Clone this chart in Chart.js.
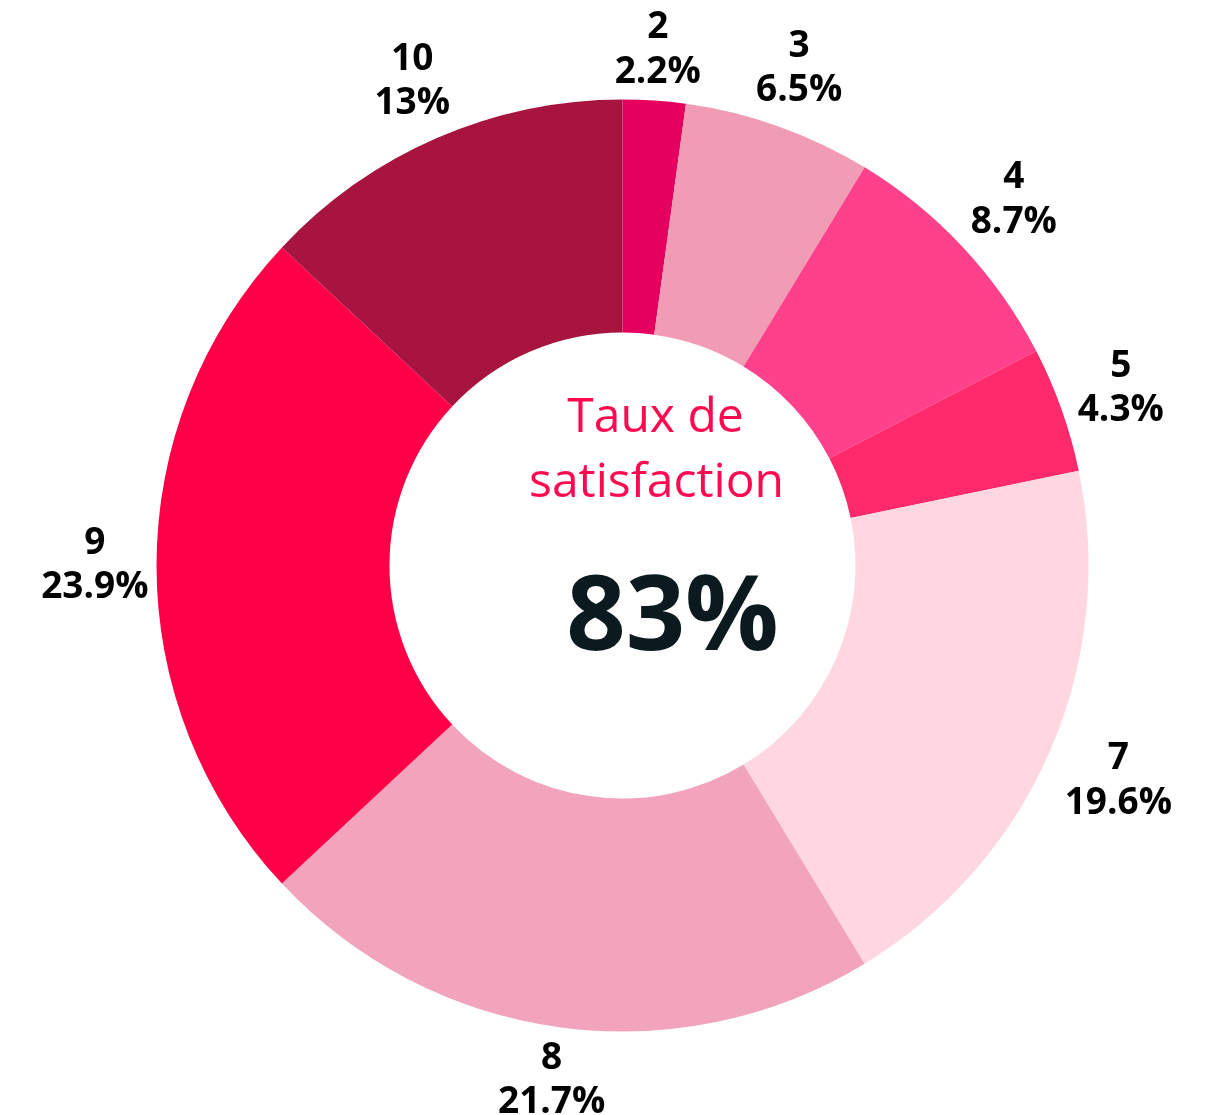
<!DOCTYPE html>
<html>
<head>
<meta charset="utf-8">
<script src="https://cdn.jsdelivr.net/npm/chart.js@4"></script>
<style>
  body { margin: 0; background: #fff; }
  #wrap { width: 1215px; height: 1115px; position: relative; }
</style>
</head>
<body>
<div id="wrap"><canvas id="myChart"></canvas></div>
<script>
const labels = ["2", "3", "4", "5", "7", "8", "9", "10"];
const counts = [1, 3, 4, 2, 9, 10, 11, 6];
const colors = ["#e5005f", "#f09cb4", "#ff408a", "#ff2a6b", "#ffd7e1", "#f1a4bb", "#ff0048", "#a6143f"];
const centerTitle = ["Taux de", "satisfaction"];
const centerValue = "83%";

const total = counts.reduce((a, b) => a + b, 0);

// distance from the chart centre to the closest point of a box
function boxDist(cx, cy, a, b) {
  const nx = Math.max(Math.abs(cx) - a, 0);
  const ny = Math.max(Math.abs(cy) - b, 0);
  return Math.hypot(nx, ny);
}

// labels outside the ring: box pushed out along the slice middle until it clears the ring
const outerLabels = {
  id: "outerLabels",
  afterDatasetsDraw(chart) {
    const ctx = chart.ctx;
    const meta = chart.getDatasetMeta(0);
    const fontSize = 37;
    const lineHeight = fontSize * 1.2;
    const padX = 4;
    const padY = 1;
    const offset = 4;
    ctx.save();
    ctx.font = "bold " + fontSize + "px 'Open Sans'";
    ctx.fillStyle = "#000";
    ctx.textAlign = "center";
    ctx.textBaseline = "middle";
    meta.data.forEach((arc, i) => {
      const p = arc.getProps(["x", "y", "startAngle", "endAngle", "outerRadius"], true);
      const mid = (p.startAngle + p.endAngle) / 2;
      const vx = Math.cos(mid);
      const vy = Math.sin(mid);
      const pct = Math.round(counts[i] / total * 1000) / 10;
      const lines = [labels[i], pct + "%"];
      let tw = 0;
      lines.forEach(l => { tw = Math.max(tw, ctx.measureText(l).width); });
      const a = tw / 2 + padX;
      const b = (lines.length * lineHeight) / 2 + padY;
      const target = p.outerRadius + offset;
      let lo = 0, hi = p.outerRadius * 3;
      for (let k = 0; k < 50; k++) {
        const d = (lo + hi) / 2;
        if (boxDist(d * vx, d * vy, a, b) < target) lo = d; else hi = d;
      }
      const cx = p.x + vx * lo;
      const cy = p.y + vy * lo;
      const top = cy - (lines.length * lineHeight) / 2;
      lines.forEach((l, j) => {
        ctx.fillText(l, cx, top + lineHeight * (j + 0.5));
      });
    });
    ctx.restore();
  },
};

const centerText = {
  id: "centerText",
  afterDraw(chart) {
    const ctx = chart.ctx;
    const arc = chart.getDatasetMeta(0).data[0];
    const x = arc.x;
    const y = arc.y;
    ctx.save();
    ctx.textAlign = "center";
    ctx.textBaseline = "alphabetic";
    ctx.fillStyle = "#ff0a50";
    ctx.font = "48px 'Open Sans'";
    ctx.fillText(centerTitle[0], x + 33, y - 134);
    ctx.fillText(centerTitle[1], x + 34, y - 69);
    ctx.fillStyle = "#0b1a1f";
    ctx.font = "bold 104px 'Open Sans'";
    ctx.fillText(centerValue, x + 50, y + 84);
    ctx.restore();
  },
};

const data = {
  labels: labels,
  datasets: [
    {
      data: counts,
      backgroundColor: colors,
      borderWidth: 0,
    },
  ],
};

const config = {
  type: "doughnut",
  data: data,
  options: {
    responsive: true,
    maintainAspectRatio: false,
    animation: false,
    radius: 466,
    cutout: "50%",
    layout: {
      padding: { top: 16, bottom: 0, left: 30, right: 0 },
    },
    plugins: {
      legend: { display: false },
      tooltip: { enabled: false },
    },
  },
  plugins: [outerLabels, centerText],
};

const myChart = new Chart(document.getElementById("myChart"), config);
</script>
</body>
</html>
